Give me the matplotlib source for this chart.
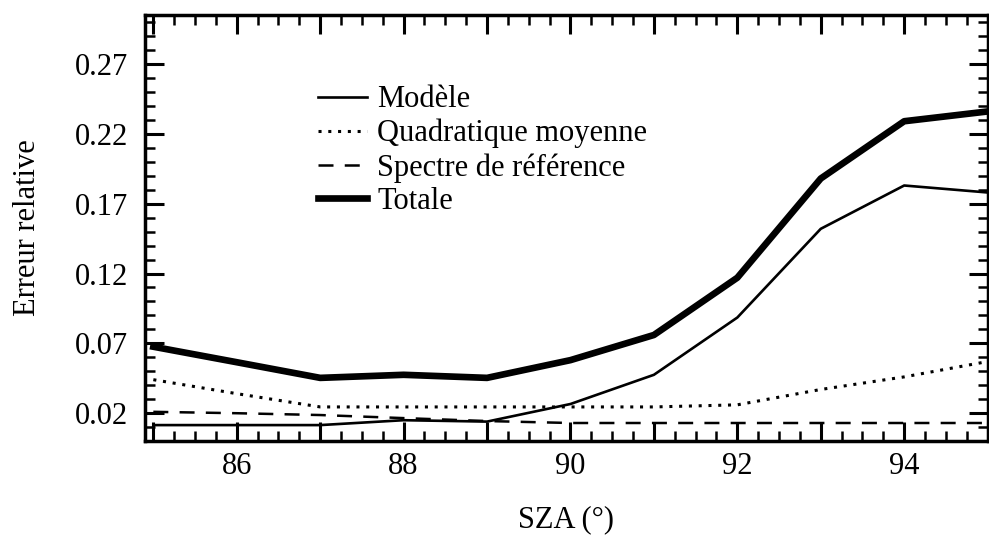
import matplotlib
matplotlib.use("Agg")
import matplotlib.pyplot as plt
from matplotlib.ticker import MultipleLocator, FuncFormatter

# SZA (degrees)
sza = [85, 86, 87, 88, 89, 90, 91, 92, 93, 94, 95]

# relative error components
modele = [0.0115, 0.0115, 0.0115, 0.015, 0.014, 0.0266, 0.0475, 0.0885, 0.152, 0.183, 0.178]
quadratique = [0.044, 0.034, 0.0245, 0.0245, 0.0245, 0.0245, 0.0245, 0.026, 0.037, 0.046, 0.057]
spectre = [0.021, 0.020, 0.0187, 0.0165, 0.0144, 0.013, 0.013, 0.013, 0.013, 0.013, 0.013]
totale = [0.0676, 0.0565, 0.0453, 0.0475, 0.0453, 0.058, 0.076, 0.117, 0.188, 0.229, 0.236]

labels = ["Modèle", "Quadratique moyenne", "Spectre de référence", "Totale"]

plt.rcParams["font.family"] = ["Liberation Serif", "DejaVu Serif"]

fig = plt.figure(figsize=(9.89, 5.38), dpi=100)
ax = fig.add_axes([0.1466, 0.180, 0.852, 0.792])

ax.plot(sza, modele, color="black", lw=1.9, label=labels[0])
ax.plot(sza, quadratique, color="black", lw=2.2, ls=(0, (1, 2.2)), label=labels[1])
ax.plot(sza, spectre, color="black", lw=1.8, ls=(0, (6, 4.5)), label=labels[2])
ax.plot(sza, totale, color="black", lw=4.8, label=labels[3])

ax.set_xlim(84.9, 95.0)
ax.set_ylim(0.0, 0.305)

ax.xaxis.set_major_locator(MultipleLocator(1))
ax.xaxis.set_minor_locator(MultipleLocator(0.25))
ax.xaxis.set_major_formatter(FuncFormatter(lambda v, p: f"{v:.0f}" if round(v) % 2 == 0 else ""))
ax.set_yticks([0.02, 0.07, 0.12, 0.17, 0.22, 0.27])
ax.yaxis.set_minor_locator(MultipleLocator(0.01))

ax.tick_params(which="both", direction="in", top=True, right=True, width=2.2, labelsize=22)
ax.tick_params(which="major", length=14)
ax.tick_params(which="minor", length=7, width=1.8)
ax.tick_params(axis="y", pad=12)
ax.tick_params(axis="x", pad=8)
for s in ax.spines.values():
    s.set_linewidth(2.5)

ax.set_xlabel("SZA (°)", fontsize=22, labelpad=17)
ax.set_ylabel("Erreur relative", fontsize=22, labelpad=24)

ax.legend(loc="upper left", bbox_to_anchor=(0.205, 0.835), frameon=False, fontsize=22,
          handlelength=1.6, handletextpad=0.35, labelspacing=0.15, borderpad=0,
          borderaxespad=0)

fig.savefig("out.png", dpi=100)
